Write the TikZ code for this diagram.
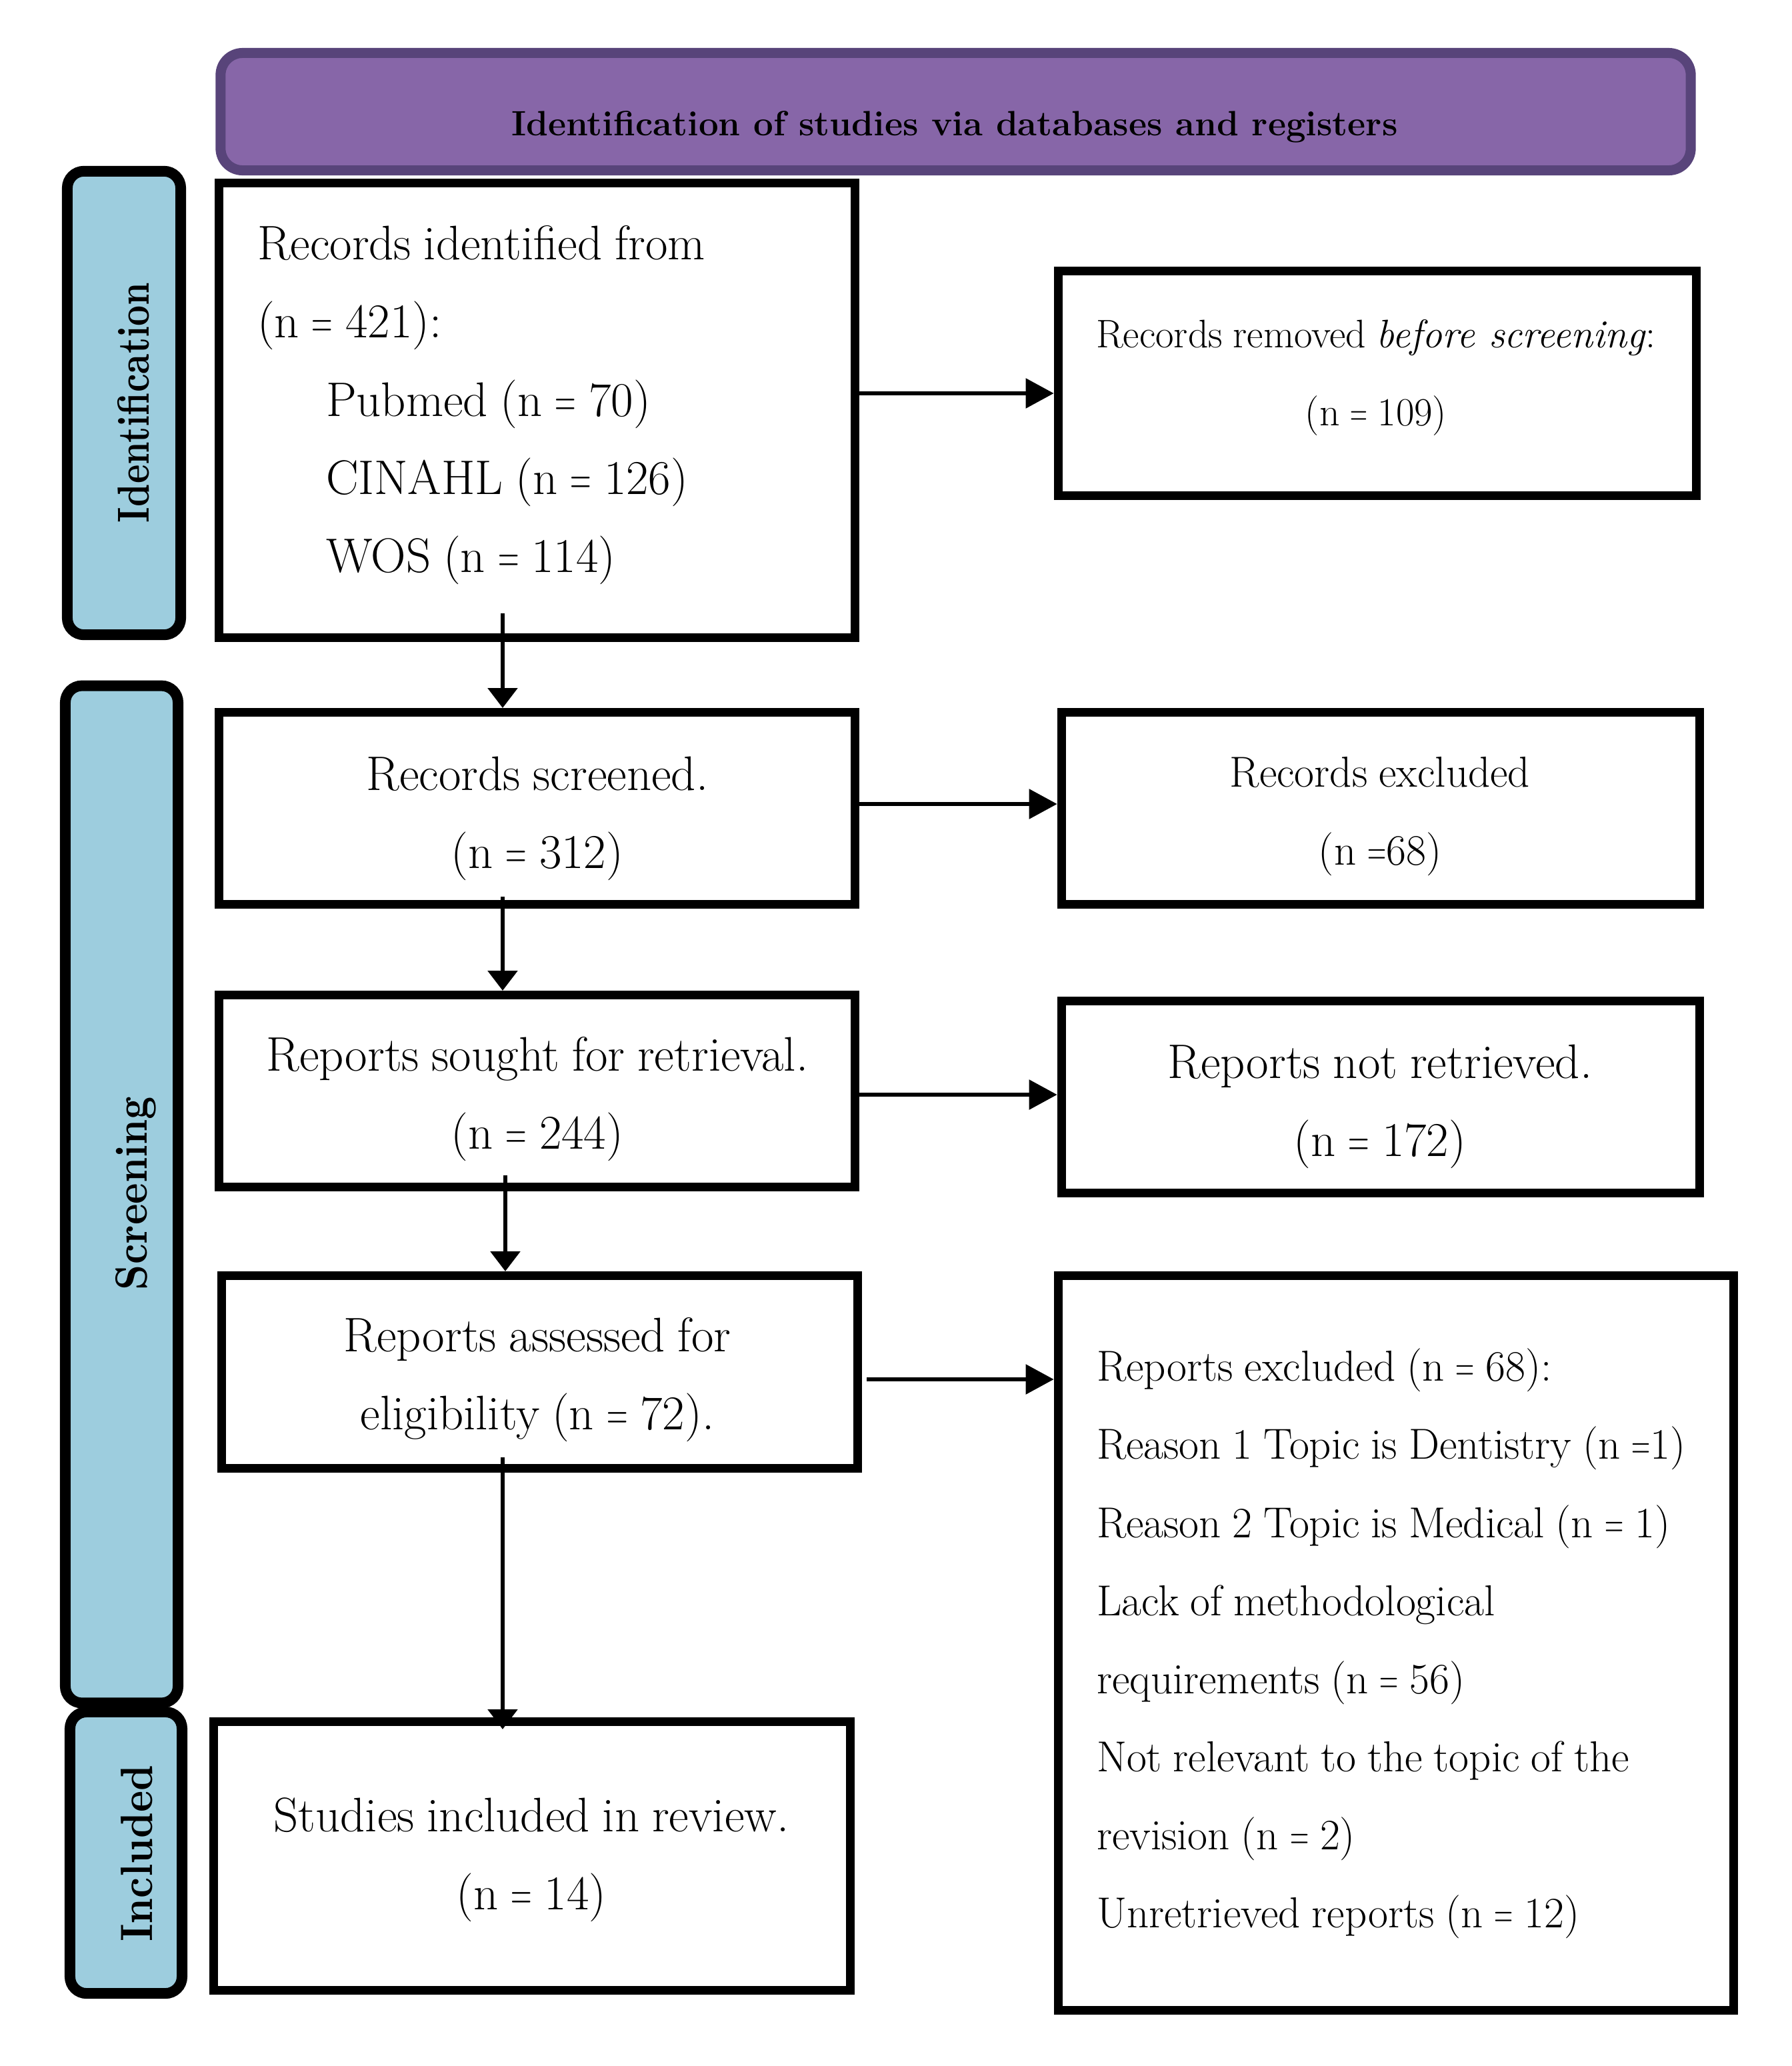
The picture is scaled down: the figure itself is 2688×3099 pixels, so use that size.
\documentclass[tikz,border=0pt]{standalone}
\usepackage{graphicx}
\usetikzlibrary{arrows.meta}
\definecolor{hdrfill}{HTML}{8766A8}
\definecolor{hdrline}{HTML}{58447A}
\definecolor{sidefill}{HTML}{9DCDDE}
\newcommand\myfont[1]{\fontsize{#1}{33.28pt}\selectfont\fontdimen2\font=0.26em\relax}
\newcommand\eq{\scalebox{0.6}[1]{=}}
\begin{document}
\begin{tikzpicture}[x=0.01cm, y=-0.01cm,
  box/.style={draw=black, line width=3.7pt, inner sep=0pt},
  hdr/.style={draw=hdrline, fill=hdrfill, line width=4.27pt, rounded corners=0.33cm, inner sep=0pt},
  side/.style={draw=black, fill=sidefill, line width=4.55pt, rounded corners=0.25cm, inner sep=0pt},
  sidetxt/.style={rotate=90, anchor=base, inner sep=0pt, outer sep=0pt, font=\bfseries},
  ctext/.style={anchor=north, align=center, inner sep=0pt, outer sep=0pt, font=\myfont{20.7pt}},
  ltext/.style={anchor=north west, align=left, inner sep=0pt, outer sep=0pt, font=\myfont{20.7pt}},
  harrow/.style={line width=1.8pt, -{Triangle[length=12pt, width=12.5pt]}},
  varrow/.style={line width=1.7pt, -{Triangle[length=8.5pt, width=12.5pt]}}
]
\fill[white] (0,0) rectangle (2688,3099);
\useasboundingbox (0,0) rectangle (2688,3099);

% header
\node[hdr, minimum width=22.04cm, minimum height=1.76cm] (hd) at (1433.5,167.5) {};
\node[anchor=base, inner sep=0pt, font=\fontsize{15pt}{18pt}\selectfont\bfseries] (ht) at (1432,203)
  {Identification of studies via databases and registers};

% side bars
\node[side, minimum width=1.70cm, minimum height=6.95cm] (s1) at (186,604.5) {};
\node[side, minimum width=1.69cm, minimum height=15.25cm] (s2) at (182.5,1791.5) {};
\node[side, minimum width=1.68cm, minimum height=4.22cm] (s3) at (189,2779) {};
\node[sidetxt] (l1) at (223,604) {\resizebox{102.4pt}{13.4pt}{Identification}};
\node[sidetxt] (l2) at (220,1790) {\resizebox{82.5pt}{13.4pt}{Screening}};
\node[sidetxt] (l3) at (228,2780) {\resizebox{75.4pt}{13.4pt}{Included}};

% boxes
\node[box, minimum width=9.54cm, minimum height=6.82cm] (b1) at (805.5,615.5) {};
\node[box, minimum width=9.57cm, minimum height=3.37cm] (b2) at (2066,575) {};
\node[box, minimum width=9.54cm, minimum height=2.88cm] (b3) at (805.5,1212.5) {};
\node[box, minimum width=9.57cm, minimum height=2.88cm] (b4) at (2071,1212.5) {};
\node[box, minimum width=9.54cm, minimum height=2.88cm] (b5) at (805.5,1636.5) {};
\node[box, minimum width=9.57cm, minimum height=2.88cm] (b6) at (2071,1645.5) {};
\node[box, minimum width=9.54cm, minimum height=2.89cm] (b7) at (809.5,2058) {};
\node[box, minimum width=10.13cm, minimum height=11.02cm] (b8) at (2094,2464.5) {};
\node[box, minimum width=9.55cm, minimum height=4.03cm] (b9) at (798,2784) {};

% texts
\node[ltext] (t1) at (386,308) {\strut Records identified from\\
  (n \eq{} 421):\\
  \hspace*{29.3pt}Pubmed (n \eq{} 70)\\
  \hspace*{29.3pt}CINAHL (n \eq{} 126)\\
  \hspace*{29.3pt}WOS (n \eq{} 114)\strut};
\node[ctext, font=\myfont{17pt}] (t2) at (2064,440) {\strut Records removed \textit{before screening}:\\ (n \eq{} 109)\strut};
\node[ctext] (t3) at (806,1104) {\strut Records screened.\\ (n \eq{} 312)\strut};
\node[ctext, font=\myfont{18.5pt}] (t4) at (2070,1099) {\strut Records excluded\\ (n \eq68)\strut};
\node[ctext] (t5) at (806,1525) {\strut Reports sought for retrieval.\\ (n \eq{} 244)\strut};
\node[ctext] (t6) at (2070,1536) {\strut Reports not retrieved.\\ (n \eq{} 172)\strut};
\node[ctext] (t7) at (806,1946) {\strut Reports assessed for\\ eligibility (n \eq{} 72).\strut};
\node[ltext, font=\myfont{18.5pt}] (t8) at (1645,1990) {\strut Reports excluded (n \eq{} 68):\\
  Reason 1 Topic is Dentistry (n \eq1)\\
  Reason 2 Topic is Medical (n \eq{} 1)\\
  Lack of methodological\\
  requirements (n \eq{} 56)\\
  Not relevant to the topic of the\\
  revision (n \eq{} 2)\\
  Unretrieved reports (n \eq{} 12)\strut};
\node[ctext] (t9) at (797,2666) {\strut Studies included in review.\\ (n \eq{} 14)\strut};

% horizontal arrows
\draw[harrow] ([yshift=0.255cm]b1.east) -- ([yshift=0.255cm]b1.east -| b2.west);
\draw[harrow] ([yshift=0.065cm]b3.east) -- ([yshift=0.065cm]b3.east -| b4.west);
\draw[harrow] ([yshift=-0.055cm]b5.east) -- ([yshift=-0.055cm]b5.east -| b6.west);
\draw[harrow] ([xshift=0.07cm,yshift=-0.11cm]b7.east) -- ([yshift=-0.11cm]b7.east -| b8.west);

% vertical arrows
\draw[varrow] ([xshift=-0.515cm,yshift=0.43cm]b1.south) -- ([xshift=-0.515cm]b1.south |- b3.north);
\draw[varrow] ([xshift=-0.515cm,yshift=0.18cm]b3.south) -- ([xshift=-0.515cm]b3.south |- b5.north);
\draw[varrow] ([xshift=-0.475cm,yshift=0.24cm]b5.south) -- ([xshift=-0.475cm]b5.south |- b7.north);
\draw[varrow] ([xshift=-0.555cm,yshift=0.23cm]b7.south) -- ([xshift=-0.555cm,yshift=-0.18cm]b7.south |- b9.north);
\end{tikzpicture}
\end{document}
